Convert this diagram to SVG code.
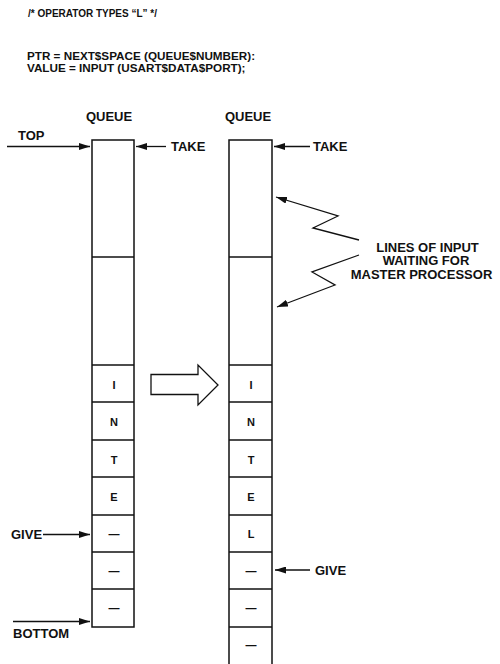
<svg xmlns="http://www.w3.org/2000/svg" width="500" height="664" viewBox="0 0 500 664">
<style>
  text { font-family: "Liberation Sans", Arial, Helvetica, sans-serif; font-weight: bold; fill: #111; }
  .hdr { font-size: 11.7px; }
  .lbl { font-size: 13px; }
  .cell { font-size: 11px; text-anchor: middle; }
  .box { fill: #fff; stroke: #111; stroke-width: 1.5; }
  .div { stroke: #111; stroke-width: 1.5; }
  .con { fill: none; stroke: #111; stroke-width: 1.3; }
</style>
<defs>
  <marker id="ah" viewBox="0 0 11 7" refX="11" refY="3.5" markerWidth="11" markerHeight="7" markerUnits="userSpaceOnUse" orient="auto">
    <path d="M0,0 L11,3.5 L0,7 z" fill="#111"/>
  </marker>
</defs>
<rect width="500" height="664" fill="#fff"/>

<g id="header">
  <text x="28" y="17" font-size="11.5" textLength="129" lengthAdjust="spacingAndGlyphs">/* OPERATOR TYPES “L” */</text>
  <text class="hdr" x="27" y="59.5">PTR = NEXT$SPACE (QUEUE$NUMBER):</text>
  <text class="hdr" x="27" y="72">VALUE = INPUT (USART$DATA$PORT);</text>
</g>

<g id="queue-before">
  <text class="lbl" x="109" y="121" text-anchor="middle">QUEUE</text>
  <rect class="box" x="92" y="140" width="42" height="487"/>
  <g class="div">
    <line x1="92" y1="257" x2="134" y2="257"/>
    <line x1="92" y1="365" x2="134" y2="365"/>
    <line x1="92" y1="402" x2="134" y2="402"/>
    <line x1="92" y1="440" x2="134" y2="440"/>
    <line x1="92" y1="477" x2="134" y2="477"/>
    <line x1="92" y1="515" x2="134" y2="515"/>
    <line x1="92" y1="552" x2="134" y2="552"/>
    <line x1="92" y1="589" x2="134" y2="589"/>
  </g>
  <text class="cell" x="114" y="389">I</text>
  <text class="cell" x="114" y="426">N</text>
  <text class="cell" x="114" y="464">T</text>
  <text class="cell" x="114" y="501">E</text>
  <text class="cell" x="114" y="538">—</text>
  <text class="cell" x="114" y="575">—</text>
  <text class="cell" x="114" y="612">—</text>
</g>

<g id="queue-after">
  <text class="lbl" x="248" y="121" text-anchor="middle">QUEUE</text>
  <rect class="box" x="229" y="140" width="43" height="540"/>
  <g class="div">
    <line x1="229" y1="257" x2="272" y2="257"/>
    <line x1="229" y1="365" x2="272" y2="365"/>
    <line x1="229" y1="402" x2="272" y2="402"/>
    <line x1="229" y1="440" x2="272" y2="440"/>
    <line x1="229" y1="477" x2="272" y2="477"/>
    <line x1="229" y1="515" x2="272" y2="515"/>
    <line x1="229" y1="552" x2="272" y2="552"/>
    <line x1="229" y1="589" x2="272" y2="589"/>
    <line x1="229" y1="627" x2="272" y2="627"/>
  </g>
  <text class="cell" x="251" y="389">I</text>
  <text class="cell" x="251" y="426">N</text>
  <text class="cell" x="251" y="464">T</text>
  <text class="cell" x="251" y="501">E</text>
  <text class="cell" x="251" y="538">L</text>
  <text class="cell" x="251" y="575">—</text>
  <text class="cell" x="251" y="612">—</text>
  <text class="cell" x="251" y="649">—</text>
</g>

<g id="transition-arrow">
  <path d="M151,374.5 L198,374.5 L198,365 L218,385 L198,405 L198,394.5 L151,394.5 Z" fill="#fff" stroke="#111" stroke-width="1.3"/>
</g>

<g id="labels">
  <text id="top" class="lbl" x="18" y="140">TOP</text>
  <text id="take-l" class="lbl" x="171" y="150.5">TAKE</text>
  <text id="take-r" class="lbl" x="313" y="150.5">TAKE</text>
  <text id="give-l" class="lbl" x="11" y="539">GIVE</text>
  <text id="give-r" class="lbl" x="315" y="574.5">GIVE</text>
  <text id="bottom" class="lbl" x="13" y="638">BOTTOM</text>
  <g id="note" class="lbl" text-anchor="middle">
    <text x="427.5" y="251.5">LINES OF INPUT</text>
    <text x="426" y="265">WAITING FOR</text>
    <text x="421.5" y="278.5">MASTER PROCESSOR</text>
  </g>
</g>

<g id="connectors" class="con">
  <line x1="7" y1="146.5" x2="90" y2="146.5" marker-end="url(#ah)"/>
  <line x1="166" y1="146.5" x2="136" y2="146.5" marker-end="url(#ah)"/>
  <line x1="310" y1="146.5" x2="274" y2="146.5" marker-end="url(#ah)"/>
  <line x1="43" y1="534.5" x2="90" y2="534.5" marker-end="url(#ah)"/>
  <line x1="13" y1="621.5" x2="90" y2="621.5" marker-end="url(#ah)"/>
  <line x1="310" y1="570" x2="275" y2="570" marker-end="url(#ah)"/>
  <polyline points="359,240 313,228 338,216 276,197" marker-end="url(#ah)"/>
  <polyline points="359,255 312,272 335,285 277,307" marker-end="url(#ah)"/>
</g>
</svg>
